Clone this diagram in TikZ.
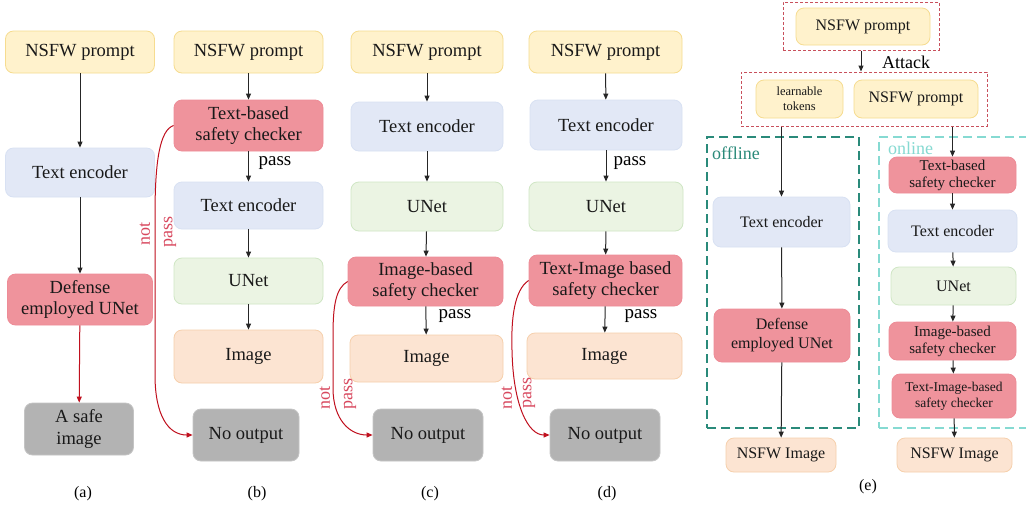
\documentclass[tikz,border=0pt]{standalone}
\usepackage{fontspec}
\setmainfont{Liberation Serif}
\usetikzlibrary{arrows.meta}
\definecolor{yelF}{HTML}{FFF2CC}
\definecolor{yelD}{HTML}{F6DC90}
\definecolor{bluF}{HTML}{E2E8F6}
\definecolor{bluD}{HTML}{D8E1F3}
\definecolor{grnF}{HTML}{EBF4E3}
\definecolor{grnD}{HTML}{CFE6C4}
\definecolor{redF}{HTML}{EF939C}
\definecolor{redD}{HTML}{EE8C97}
\definecolor{orgF}{HTML}{FCE4D2}
\definecolor{orgD}{HTML}{F6D0AC}
\definecolor{gryF}{HTML}{B3B3B3}
\definecolor{gryD}{HTML}{C4C4C4}
\definecolor{arrRed}{HTML}{C0101E}
\definecolor{txtRed}{HTML}{D8485E}
\definecolor{dashRed}{HTML}{C8505C}
\definecolor{offCol}{HTML}{2A8A7A}
\definecolor{onCol}{HTML}{86DAD2}
\begin{document}
\begin{tikzpicture}[x=1pt,y=-1pt,
  box/.style={rectangle, rounded corners=8pt, line width=0.8pt, inner sep=2pt, align=center, text=black!90, font=\fontsize{18.5}{21.5}\selectfont},
  ybox/.style={box, fill=yelF, draw=yelD},
  bbox/.style={box, fill=bluF, draw=bluD},
  gbox/.style={box, fill=grnF, draw=grnD},
  rbox/.style={box, fill=redF, draw=redD},
  obox/.style={box, fill=orgF, draw=orgD},
  kbox/.style={box, fill=gryF, draw=gryD},
  sz/.style 2 args={minimum width=#1pt, minimum height=#2pt},
  arr/.style={line width=1pt, black!85, -{Triangle[length=6pt,width=5pt]}},
  rarr/.style={line width=1pt, arrRed, -{Triangle[length=6pt,width=5pt]}},
  passlbl/.style={font=\fontsize{19}{21}\selectfont, text=black, inner sep=0pt},
  redlbl/.style={font=\fontsize{18}{20}\selectfont, text=txtRed, rotate=90, inner sep=0pt},
  captxt/.style={font=\fontsize{16}{18}\selectfont, inner sep=0pt},
  smallfont/.style={font=\fontsize{16}{19}\selectfont},
]
\clip (0,0) rectangle (1026,507);
\fill[white] (0,0) rectangle (1026,507);

% ---------- (a)
\node[ybox, sz={149}{42}] (a1) at (80,52) {NSFW prompt};
\node[bbox, sz={149}{49}] (a2) at (80,172.5) {Text encoder};
\node[rbox, sz={145}{51}] (a3) at (80,299.5) {Defense\\employed UNet};
\node[kbox, sz={109}{52}] (a4) at (79,429) {A safe\\image};
\draw[arr] (a1) -- (a2);
\draw[arr] (a2) -- (a3);
\draw[rarr] (a3) -- (a4);
\node[captxt] (la) at (83,494) {(a)};

% ---------- (b)
\node[ybox, sz={149}{42}] (b1) at (248.5,52) {NSFW prompt};
\node[rbox, sz={149}{51}] (b2) at (248.5,125.5) {Text-based\\safety checker};
\node[bbox, sz={149}{47}] (b3) at (248.5,205.5) {Text encoder};
\node[gbox, sz={149}{46}] (b4) at (248.5,281) {UNet};
\node[obox, sz={149}{53}] (b5) at (248.5,356.5) {Image};
\node[kbox, sz={106}{52}] (b6) at (246,435) {No output};
\draw[arr] (b1) -- (b2);
\draw[arr] (b2) -- (b3);
\draw[arr] (b3) -- (b4);
\draw[arr] (b4) -- (b5);
\node[passlbl] (bp) at (275,163) {pass};
\draw[rarr] (b2.west) .. controls (160,130) and (155,160) .. (155,215) -- (155,375) .. controls (155,415) and (168,435) .. (b6.west);
\node[redlbl] (bn1) at (145,234) {not};
\node[redlbl] (bn2) at (170,232) {pass};
\node[captxt] (lb) at (257,494) {(b)};

% ---------- (c)
\node[ybox, sz={152}{42}] (c1) at (427,52) {NSFW prompt};
\node[bbox, sz={152}{49}] (c2) at (427,126.5) {Text encoder};
\node[gbox, sz={152}{49}] (c3) at (427,206.5) {UNet};
\node[rbox, sz={155}{49}] (c4) at (425.5,281.5) {Image-based\\safety checker};
\node[obox, sz={153}{47}] (c5) at (426.5,358.5) {Image};
\node[kbox, sz={110}{52}] (c6) at (428,435) {No output};
\draw[arr] (c1) -- (c2);
\draw[arr] (c2) -- (c3);
\draw[arr] (c3) -- (c4);
\draw[arr] (c4) -- (c5);
\node[passlbl] (cp) at (455,316) {pass};
\draw[rarr] (c4.west) .. controls (336,288) and (333,305) .. (333,335) -- (333,388) .. controls (333,420) and (350,435) .. (c6.west);
\node[redlbl] (cn1) at (325,398) {not};
\node[redlbl] (cn2) at (350,394) {pass};
\node[captxt] (lc) at (430,494) {(c)};

% ---------- (d)
\node[ybox, sz={153}{42}] (d1) at (605.5,52) {NSFW prompt};
\node[bbox, sz={152}{50}] (d2) at (606,125) {Text encoder};
\node[gbox, sz={154}{49}] (d3) at (606,206.5) {UNet};
\node[rbox, sz={153}{51}] (d4) at (605.5,280.5) {Text-Image based\\safety checker};
\node[obox, sz={155}{46}] (d5) at (604.5,356) {Image};
\node[kbox, sz={110}{52}] (d6) at (605,435) {No output};
\draw[arr] (d1) -- (d2);
\draw[arr] (d2) -- (d3);
\draw[arr] (d3) -- (d4);
\draw[arr] (d4) -- (d5);
\node[passlbl] (dp1) at (630,163) {pass};
\node[passlbl] (dp2) at (641,316) {pass};
\draw[rarr] (d4.west) .. controls (514,290) and (511,320) .. (512,350) .. controls (513,405) and (528,435) .. (d6.west);
\node[redlbl] (dn1) at (507,398) {not};
\node[redlbl] (dn2) at (529,393) {pass};
\node[captxt] (ld) at (607,494) {(d)};

% ---------- (e)
\node[draw=dashRed, line width=1pt, dash pattern=on 3pt off 2pt, minimum width=156pt, minimum height=48pt, inner sep=0pt] (t0) at (861,26) {};
\node[ybox, sz={134}{37}, smallfont] (e1) at (863,26.5) {NSFW prompt};
\node[draw=dashRed, line width=1pt, dash pattern=on 3pt off 2pt, minimum width=246pt, minimum height=54pt, inner sep=0pt] (t1) at (864,99) {};
\node[ybox, sz={87}{38}, font=\fontsize{12.5}{15}\selectfont] (e2) at (799.5,99) {learnable\\tokens};
\node[ybox, sz={124}{38}, smallfont] (e3) at (916,99) {NSFW prompt};
\draw[arr] (t0.south) -- (t0.south |- t1.north);
\node[font=\fontsize{18}{20}\selectfont, inner sep=0pt] (att) at (906,62) {Attack};

\node[draw=offCol, line width=2.2pt, dash pattern=on 9pt off 5pt, minimum width=152pt, minimum height=291pt, inner sep=0pt] (off) at (783,282.5) {};
\node[draw=onCol, line width=2pt, dash pattern=on 9pt off 5pt, minimum width=160pt, minimum height=291pt, inner sep=0pt] (on) at (959,282.5) {};
\node[anchor=west, text=offCol, font=\fontsize{18}{20}\selectfont, inner sep=0pt] (offl) at (712,153) {offline};
\node[anchor=west, text=onCol, font=\fontsize{18}{20}\selectfont, inner sep=0pt] (onl) at (888,148) {online};

\node[bbox, sz={137}{50}, smallfont] (f1) at (781.5,222) {Text encoder};
\node[rbox, sz={136}{53}, smallfont] (f2) at (782,335.5) {Defense\\employed UNet};
\node[obox, sz={110}{34}, smallfont] (f3) at (781,455) {NSFW Image};
\draw[arr] (f1.north |- t1.south) -- (f1.north);
\draw[arr] (f1) -- (f2);
\draw[arr] (f2) -- (f3);

\node[rbox, sz={127}{36}, font=\fontsize{15}{17}\selectfont] (g1) at (952.5,175) {Text-based\\safety checker};
\node[bbox, sz={129}{42}, smallfont] (g2) at (952.5,231) {Text encoder};
\node[gbox, sz={125}{38}, smallfont] (g3) at (953.5,286) {UNet};
\node[rbox, sz={127}{38}, font=\fontsize{15}{17}\selectfont] (g4) at (952.5,341) {Image-based\\safety checker};
\node[rbox, sz={124}{44}, font=\fontsize{13.5}{16}\selectfont] (g5) at (954,396) {Text-Image-based\\safety checker};
\node[obox, sz={115}{34}, smallfont] (g6) at (954.5,455) {NSFW Image};
\draw[arr] (g1.north |- t1.south) -- (g1.north);
\draw[arr] (g1) -- (g2);
\draw[arr] (g2) -- (g3);
\draw[arr] (g3) -- (g4);
\draw[arr] (g4) -- (g5);
\draw[arr] (g5) -- (g6);
\node[captxt] (le) at (868,487) {(e)};
\end{tikzpicture}
\end{document}
